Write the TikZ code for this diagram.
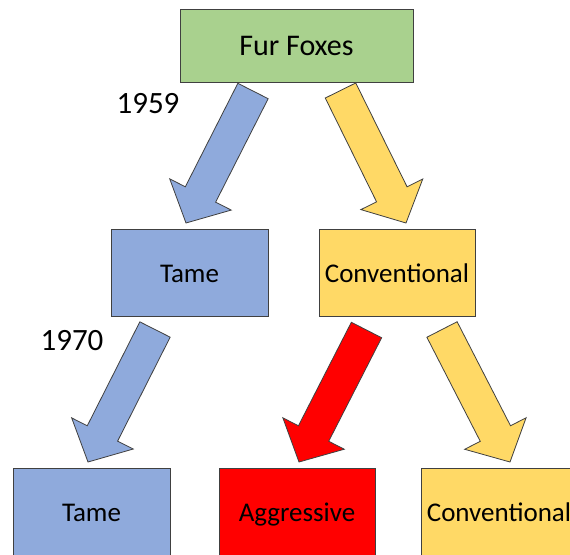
\documentclass[tikz,border=0pt]{standalone}
\usepackage{fontspec}
\setmainfont{Carlito}
\usetikzlibrary{calc}
\definecolor{fgreen}{HTML}{A9D18E}
\definecolor{fblue}{HTML}{8FAADC}
\definecolor{fyellow}{HTML}{FFD966}
\definecolor{fred}{HTML}{FF0000}
\definecolor{fline}{HTML}{404040}
\tikzset{
  box/.style={draw=fline, line width=0.8pt, rectangle, inner sep=0pt,
    text height=21pt, text depth=2pt,
    minimum width=156pt, minimum height=87pt, font=\fontsize{27}{31}\selectfont},
  yearlbl/.style={inner sep=0pt, font=\fontsize{31}{35}\selectfont},
  barrow/.style={draw=fline, line width=0.8pt, line join=miter},
}
\newcommand\blockarrow[3]{%
  \path (#2) coordinate (ba-t) (#3) coordinate (ba-h)
    ($(ba-h)!32pt!(ba-t)$) coordinate (ba-m);
  \draw[barrow,#1] ($(ba-t)!17pt!90:(ba-h)$) -- ($(ba-m)!17pt!90:(ba-h)$)
    -- ($(ba-m)!34.5pt!90:(ba-h)$) -- (ba-h)
    -- ($(ba-m)!34.5pt!-90:(ba-h)$) -- ($(ba-m)!17pt!-90:(ba-h)$)
    -- ($(ba-t)!17pt!-90:(ba-h)$) -- cycle;}
\begin{document}
\begin{tikzpicture}[x=1pt,y=-1pt]
\clip (0,0) rectangle (570,554);
\fill[white] (0,0) rectangle (570,554);
% boxes
\node[box, fill=fgreen, minimum width=233pt, minimum height=73pt,
  text height=20pt, text depth=1pt,
  font=\fontsize{30}{34}\selectfont] (fur) at (296.5,45.5) {Fur Foxes};
\node[box, fill=fblue, minimum width=157pt] (tame1) at (189.5,272.5) {Tame};
\node[box, fill=fyellow] (conv1) at (397,272.5) {Conventional};
\node[box, fill=fblue, minimum width=157pt] (tame2) at (91.5,511.5) {Tame};
\node[box, fill=fred] (aggr) at (297,511.5) {Aggressive};
\node[box, fill=fyellow] (conv2) at (499,511.5) {Conventional};
% years
\node[yearlbl] (y1959) at (148,104) {1959};
\node[yearlbl] (y1970) at (72,341) {1970};
% arrow end points
\coordinate (a1t) at (253,91);   \coordinate (a1h) at (186,223);
\coordinate (a2t) at (340.5,90.5); \coordinate (a2h) at (406,223);
\coordinate (a3t) at (155,329.5); \coordinate (a3h) at (88,462);
\coordinate (a4t) at (366.5,330); \coordinate (a4h) at (299,462);
\coordinate (a5t) at (442,329.5); \coordinate (a5h) at (510,462);
\blockarrow{fill=fblue}{a1t}{a1h}
\blockarrow{fill=fyellow}{a2t}{a2h}
\blockarrow{fill=fblue}{a3t}{a3h}
\blockarrow{fill=fred}{a4t}{a4h}
\blockarrow{fill=fyellow}{a5t}{a5h}
\end{tikzpicture}
\end{document}
